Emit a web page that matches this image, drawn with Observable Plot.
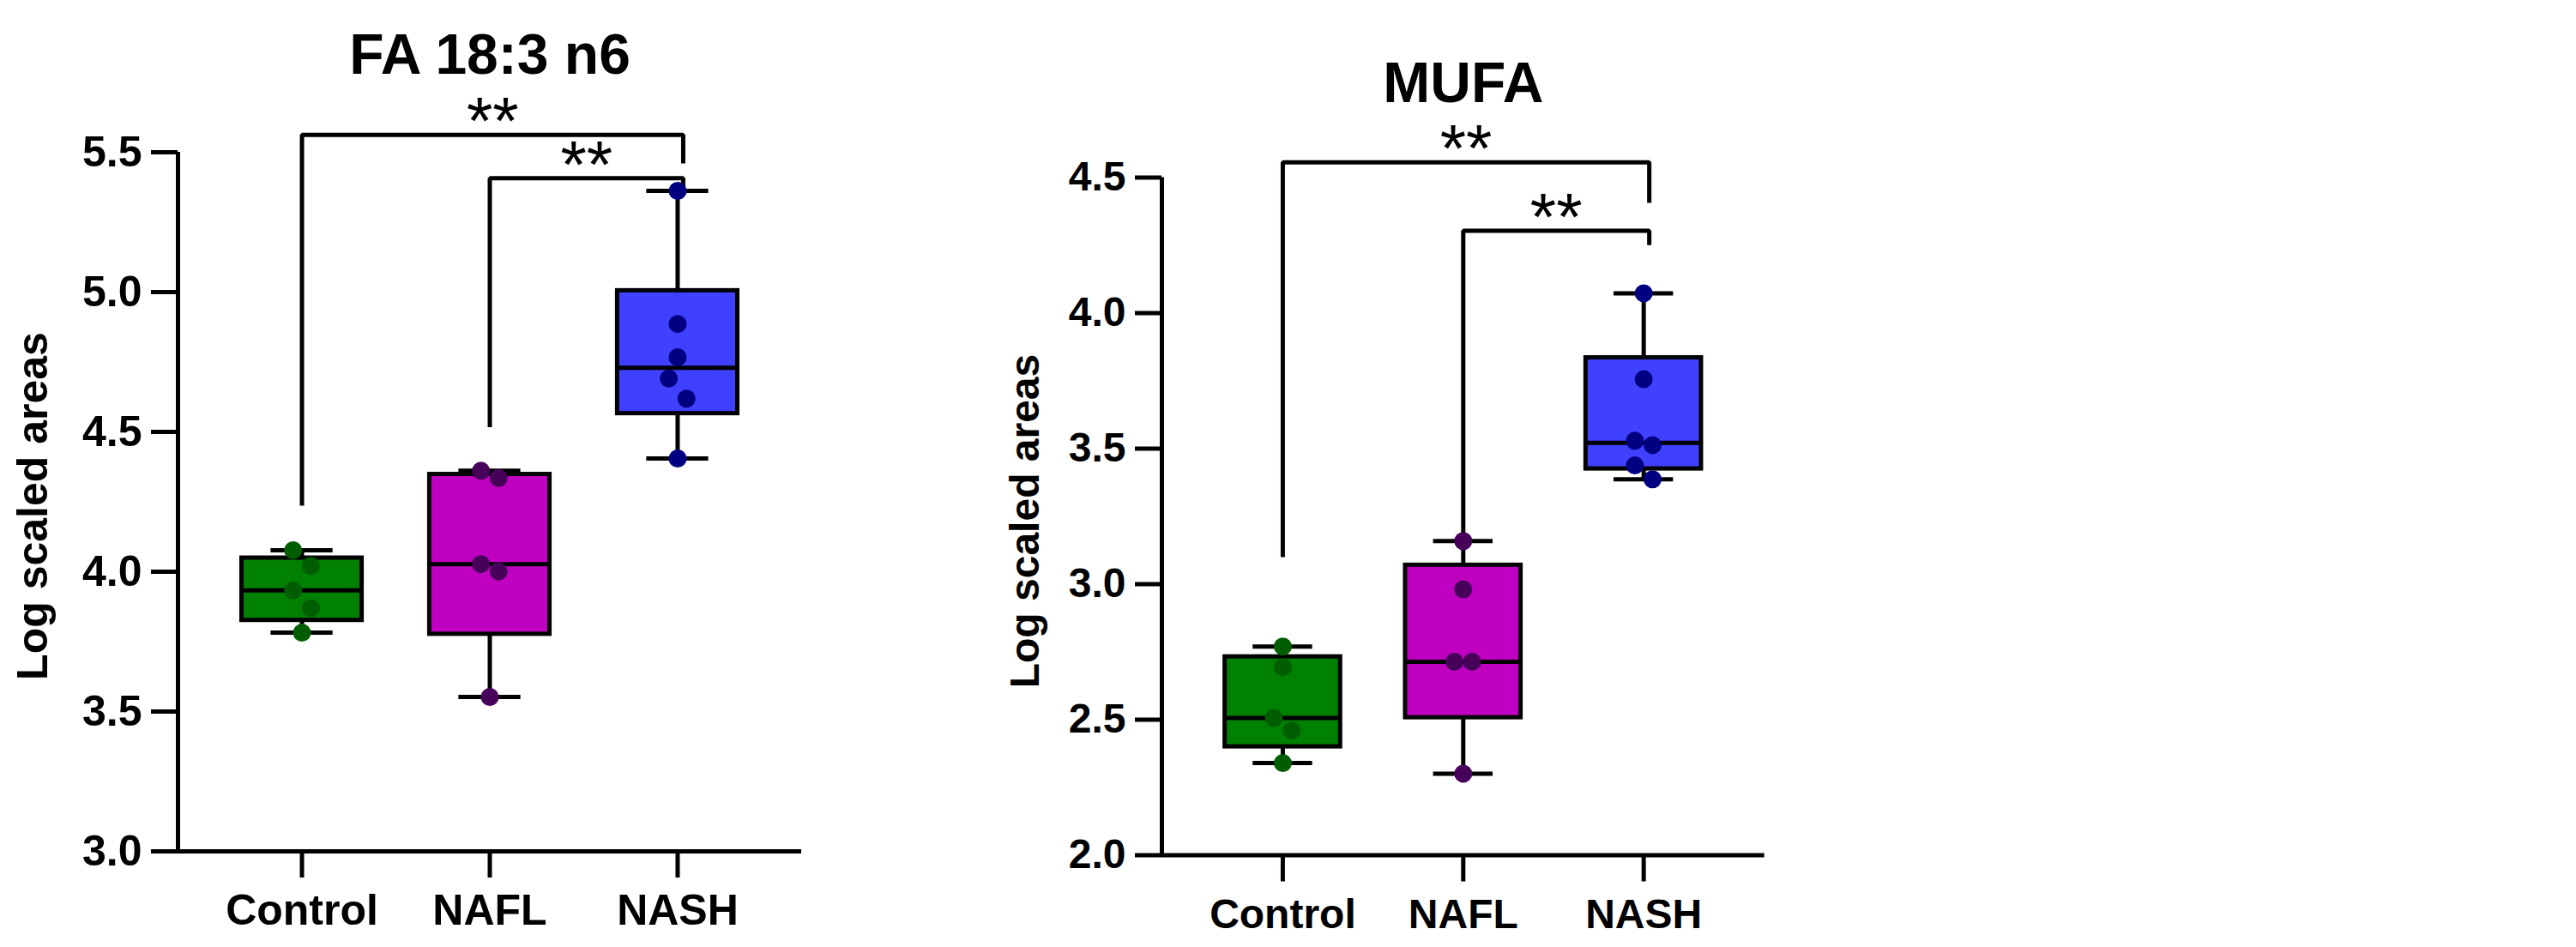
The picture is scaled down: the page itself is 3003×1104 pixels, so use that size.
<!DOCTYPE html>
<html>
<head>
<meta charset="utf-8">
<script src="https://cdn.jsdelivr.net/npm/d3@7"></script>
<script src="https://cdn.jsdelivr.net/npm/@observablehq/plot@0.6"></script>
<style>
  html, body { margin: 0; padding: 0; background: #fff; }
  #root { position: relative; width: 3003px; height: 1104px; overflow: hidden; background: #fff; }
  #root > div { position: absolute; top: 0; }
  #root svg { display: block; max-width: none; }
</style>
</head>
<body>
<div id="root"><div id="left"></div><div id="right"></div></div>
<script>
// ---------- shared categories ----------
const groups = ["Control", "NAFL", "NASH"];

// ---------- chart 1: FA 18:3 n6 ----------
const faTitle = "FA 18:3 n6";
const faYLabel = "Log scaled areas";
const faControl = [4.077, 4.021, 3.933, 3.870, 3.782];
const faNAFL    = [4.361, 4.335, 4.027, 4.001, 3.552];
const faNASH    = [5.362, 4.886, 4.767, 4.691, 4.619, 4.405];
const faYTicks  = [3.0, 3.5, 4.0, 4.5, 5.0, 5.5];
const faBracketFrom    = ["Control", "NAFL"];
const faBracketTo      = ["NASH", "NASH"];
const faBracketBar     = [5.562, 5.407];
const faBracketFromEnd = [4.236, 4.517];
const faBracketToEnd   = [5.460, 5.358];
const faBracketLabel   = ["**", "**"];

// ---------- chart 2: MUFA ----------
const mufaTitle = "MUFA";
const mufaYLabel = "Log scaled areas";
const mufaControl = [2.770, 2.694, 2.506, 2.460, 2.340];
const mufaNAFL    = [3.159, 2.981, 2.714, 2.714, 2.301];
const mufaNASH    = [4.073, 3.756, 3.529, 3.513, 3.438, 3.387];
const mufaYTicks  = [2.0, 2.5, 3.0, 3.5, 4.0, 4.5];
const mufaBracketFrom    = ["Control", "NAFL"];
const mufaBracketTo      = ["NASH", "NASH"];
const mufaBracketBar     = [4.556, 4.304];
const mufaBracketFromEnd = [3.100, 3.159];
const mufaBracketToEnd   = [4.407, 4.251];
const mufaBracketLabel   = ["**", "**"];

// ---------- styles ----------
const BOX_FILL = ["#008000", "#C000C0", "#4040FF"];
const DOT_FILL = ["#005E00", "#46005A", "#000080"];
const FONT = "'Liberation Sans', Arial, Helvetica, sans-serif";
const LW = 5;
const BOX_HALF = 0.32;      // in category units
const CAP_HALF = 0.165;
const DOT_R = 10.5;
const SWARM_GAP_PX = 23.8;
const SWARM_OFFSET_PX = 10.3;
const BRACKET_SHIFT_PX = 6.5;

// GraphPad-style quartile ((n+1)p)
function q6(s, p) {
  const n = s.length, h = (n + 1) * p;
  if (h <= 1) return s[0];
  if (h >= n) return s[n - 1];
  const lo = Math.floor(h);
  return s[lo - 1] + (h - lo) * (s[lo] - s[lo - 1]);
}

function drawChart(cfg) {
  const L = cfg.layout;
  const yDomain = [d3.min(cfg.yTicks), d3.max(cfg.yTicks)];
  const pxX = (L.width - L.ml - L.mr) / (L.xDomain[1] - L.xDomain[0]);
  const pxY = (L.height - L.mt - L.mb) / (yDomain[1] - yDomain[0]);

  const boxes = cfg.values.map((vals, g) => {
    const s = vals.slice().sort(d3.ascending);
    return {g, min: s[0], max: s[s.length - 1], q1: q6(s, 0.25), med: q6(s, 0.5), q3: q6(s, 0.75)};
  });

  // simple scatter layout: near neighbours are split left/right
  const points = [];
  cfg.values.forEach((vals, g) => {
    const s = vals.slice().sort(d3.descending);
    let k = 0;
    while (k < s.length) {
      if (k + 1 < s.length && (s[k] - s[k + 1]) * pxY < SWARM_GAP_PX) {
        points.push({g, v: s[k], off: -SWARM_OFFSET_PX});
        points.push({g, v: s[k + 1], off: SWARM_OFFSET_PX});
        k += 2;
      } else {
        points.push({g, v: s[k], off: 0});
        k += 1;
      }
    }
  });

  const shift = BRACKET_SHIFT_PX / pxX;
  const bracketPts = [];
  const bracketText = [];
  cfg.bFrom.forEach((f, i) => {
    const xf = groups.indexOf(f), xt = groups.indexOf(cfg.bTo[i]) + shift;
    bracketPts.push({id: i, x: xf, y: cfg.bFromEnd[i]});
    bracketPts.push({id: i, x: xf, y: cfg.bBar[i]});
    bracketPts.push({id: i, x: xt, y: cfg.bBar[i]});
    bracketPts.push({id: i, x: xt, y: cfg.bToEnd[i]});
    bracketText.push({x: (xf + xt) / 2, y: cfg.bBar[i], t: cfg.bLabel[i]});
  });

  return Plot.plot({
    width: L.width,
    height: L.height,
    marginLeft: L.ml,
    marginRight: L.mr,
    marginTop: L.mt,
    marginBottom: L.mb,
    x: {type: "linear", domain: L.xDomain},
    y: {type: "linear", domain: yDomain},
    color: {type: "identity"},
    style: {fontFamily: FONT, background: "white", color: "black", overflow: "visible"},
    marks: [
      // whiskers
      Plot.ruleX(boxes, {x: "g", y1: "min", y2: "q1", stroke: "black", strokeWidth: LW}),
      Plot.ruleX(boxes, {x: "g", y1: "q3", y2: "max", stroke: "black", strokeWidth: LW}),
      Plot.ruleY(boxes, {y: "min", x1: d => d.g - CAP_HALF, x2: d => d.g + CAP_HALF, stroke: "black", strokeWidth: LW}),
      Plot.ruleY(boxes, {y: "max", x1: d => d.g - CAP_HALF, x2: d => d.g + CAP_HALF, stroke: "black", strokeWidth: LW}),
      // boxes
      Plot.rect(boxes, {x1: d => d.g - BOX_HALF, x2: d => d.g + BOX_HALF, y1: "q1", y2: "q3",
        fill: d => BOX_FILL[d.g], stroke: "black", strokeWidth: LW}),
      Plot.ruleY(boxes, {y: "med", x1: d => d.g - BOX_HALF, x2: d => d.g + BOX_HALF, stroke: "black", strokeWidth: LW}),
      // significance brackets
      Plot.line(bracketPts, {x: "x", y: "y", z: "id", stroke: "black", strokeWidth: LW,
        strokeLinejoin: "miter", strokeLinecap: "butt", curve: "linear"}),
      Plot.text(bracketText, {x: "x", y: "y", text: "t", lineAnchor: "bottom", dy: L.starDy,
        fontSize: L.starFs, fontWeight: "normal", fill: "black"}),
      // dots
      Plot.dot(points, {x: d => d.g + d.off / pxX, y: "v", r: DOT_R, fill: d => DOT_FILL[d.g], stroke: null}),
      // axis lines
      Plot.ruleX([L.xDomain[0]], {stroke: "black", strokeWidth: LW}),
      Plot.ruleY([yDomain[0]], {stroke: "black", strokeWidth: LW}),
      Plot.axisY({ticks: cfg.yTicks, tickSize: 31, tickPadding: 11, tickFormat: d3.format(".1f"),
        fontSize: L.fs, fontWeight: "bold", strokeWidth: LW, stroke: "black", fill: "black", label: null}),
      Plot.axisX({ticks: groups.map((_, i) => i), tickFormat: i => groups[i], tickSize: 31, tickPadding: L.xPad,
        fontSize: L.fs, fontWeight: "bold", strokeWidth: LW, stroke: "black", fill: "black", label: null}),
      // titles
      Plot.text([cfg.title], {text: d => d, frameAnchor: "top", textAnchor: "middle", lineAnchor: "bottom", dy: L.titleDy,
        fontSize: L.titleFs, fontWeight: "bold", fill: "black"}),
      Plot.text([cfg.yLabel], {text: d => d, frameAnchor: "left", textAnchor: "middle", lineAnchor: "middle",
        rotate: -90, dx: L.yLabelDx, dy: L.yLabelDy,
        fontSize: L.fs, fontWeight: "bold", fill: "black"})
    ]
  });
}

const leftChart = drawChart({
  title: faTitle, yLabel: faYLabel,
  values: [faControl, faNAFL, faNASH], yTicks: faYTicks,
  bFrom: faBracketFrom, bTo: faBracketTo, bBar: faBracketBar,
  bFromEnd: faBracketFromEnd, bToEnd: faBracketToEnd, bLabel: faBracketLabel,
  layout: {width: 1000, height: 1104, ml: 207, mr: 66, mt: 177, mb: 112,
    xDomain: [-0.66, 2.66], fs: 50, xPad: 19, titleFs: 66, titleDy: -92,
    yLabelDx: -169, yLabelDy: 5, starFs: 78, starDy: 11}
});
const rightChart = drawChart({
  title: mufaTitle, yLabel: mufaYLabel,
  values: [mufaControl, mufaNAFL, mufaNASH], yTicks: mufaYTicks,
  bFrom: mufaBracketFrom, bTo: mufaBracketTo, bBar: mufaBracketBar,
  bFromEnd: mufaBracketFromEnd, bToEnd: mufaBracketToEnd, bLabel: mufaBracketLabel,
  layout: {width: 1100, height: 1104, ml: 354, mr: 43.4, mt: 206.5, mb: 107.5,
    xDomain: [-0.67, 2.67], fs: 48, xPad: 19.5, titleFs: 66, titleDy: -88.5,
    yLabelDx: -159, yLabelDy: 5.5, starFs: 78, starDy: 11}
});

const leftBox = document.getElementById("left");
const rightBox = document.getElementById("right");
leftBox.style.left = "0px";
rightBox.style.left = "1000px";
leftBox.appendChild(leftChart);
rightBox.appendChild(rightChart);
</script>
</body>
</html>
